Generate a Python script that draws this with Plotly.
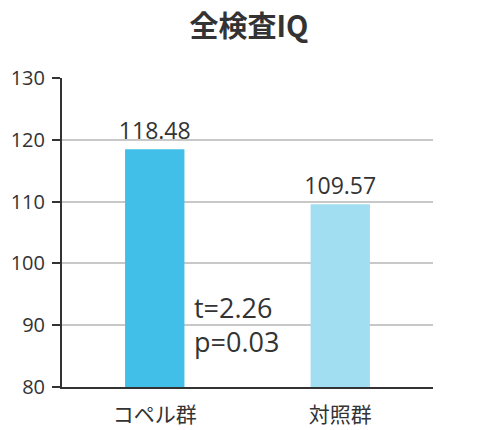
import plotly.graph_objects as go

# data
groups = ['コペル群', '対照群']
iq_means = [118.48, 109.57]
bar_colors = ['#41BFE8', '#A2DEF2']
stat_lines = ['t=2.26', 'p=0.03']
y_ticks = [80, 90, 100, 110, 120, 130]

font_family = 'Open Sans, Noto Sans CJK JP, sans-serif'
cjk_family = 'Noto Sans CJK JP, sans-serif'
text_color = '#333333'

fig = go.Figure()

fig.add_trace(go.Bar(
    x=groups,
    y=iq_means,
    marker=dict(color=bar_colors, line=dict(width=0)),
    text=[f'{v:.2f}' for v in iq_means],
    textposition='outside',
    constraintext='none',
    textfont=dict(size=23, color=text_color, family=font_family),
    cliponaxis=False,
    showlegend=False,
))

# t / p values, placed between the two bars
fig.add_annotation(x=0.2, y=92.8, xref='x', yref='y', text=stat_lines[0],
                   showarrow=False, xanchor='left', yanchor='middle',
                   font=dict(size=27, color=text_color, family=font_family))
fig.add_annotation(x=0.2, y=87.3, xref='x', yref='y', text=stat_lines[1],
                   showarrow=False, xanchor='left', yanchor='middle',
                   font=dict(size=27, color=text_color, family=font_family))

# page body adds ~8px offset, so the figure is a bit smaller than the window
fig.update_layout(
    width=482,
    height=422,
    margin=dict(l=54, r=57, t=70, b=43, autoexpand=False),
    plot_bgcolor='white',
    paper_bgcolor='white',
    bargap=0.68,
    title=dict(text='<b>全検査IQ</b>', x=0.5, xanchor='center',
               y=0.956, yanchor='middle', automargin=False,
               font=dict(size=29, color=text_color, family=cjk_family)),
    font=dict(family=font_family, color=text_color),
)

fig.update_xaxes(
    showline=True, linecolor=text_color, linewidth=2,
    ticks='', showgrid=False, automargin=False,
    ticklabelstandoff=8,
    tickfont=dict(size=21, color=text_color, family=cjk_family),
    range=[-0.5, 1.5],
)

fig.update_yaxes(
    range=[80, 130],
    tickvals=y_ticks,
    showline=True, linecolor=text_color, linewidth=2,
    ticks='outside', ticklen=8, tickwidth=2, tickcolor=text_color,
    showgrid=True, gridcolor='#C8C8C8', gridwidth=1.5,
    zeroline=False, automargin=False,
    ticklabelstandoff=3,
    tickfont=dict(size=20, color=text_color),
)

fig.write_html('out.html')
